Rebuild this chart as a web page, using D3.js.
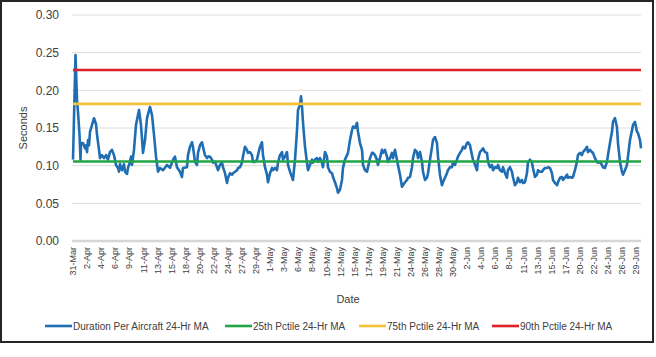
<!DOCTYPE html>
<html><head><meta charset="utf-8">
<script src="https://cdn.jsdelivr.net/npm/d3@7"></script>
<style>body{margin:0;background:#fff;} svg{display:block;} text{font-family:"Liberation Sans",Arial,sans-serif;}</style>
</head><body><svg id="c" width="656" height="357"></svg>
<script>
// start of the series: 31-Mar 00:00
const startDate = new Date(2019, 2, 31, 0, 0);
// time of each reading, in days since 31-Mar 00:00
const days = [0,0.40,0.64,0.80,1.04,1.20,1.28,1.60,1.92,2.08,2.24,2.40,2.56,2.72,3.04,3.36,3.68,3.84,4.16,4.32,4.64,4.96,5.28,5.59,5.91,6.23,6.55,6.71,6.87,7.19,7.35,7.51,7.83,8.15,8.31,8.63,8.79,9.11,9.27,9.43,9.75,10.07,10.55,10.87,11.19,11.51,11.83,12.31,12.63,12.95,13.27,13.59,13.91,
14.39,15.03,15.51,15.99,16.30,16.62,17.10,17.42,17.58,18.22,18.38,18.70,19.02,19.18,19.50,19.82,19.98,20.30,20.62,20.78,21.10,21.42,21.58,21.90,22.22,22.38,22.70,23.02,23.18,23.50,23.82,23.98,24.30,24.62,24.78,25.10,25.42,25.58,25.90,26.22,26.38,26.69,27.01,27.17,27.49,27.81,27.97,28.29,28.61,28.77,29.09,29.41,29.57,29.89,30.21,30.37,30.69,31.01,31.17,31.49,31.81,31.97,32.29,32.61,32.77,33.09,33.41,33.57,33.89,34.21,34.37,34.69,35.01,35.17,35.49,35.81,35.97,36.29,36.45,36.61,36.77,37.09,37.40,37.56,37.88,38.20,38.36,38.68,39.00,39.16,39.48,39.80,39.96,40.28,40.60,40.76,41.08,41.40,41.56,41.88,42.20,42.36,42.68,43.00,43.16,43.48,43.80,43.96,44.28,44.60,44.76,45.08,45.40,45.56,45.88,46.20,46.36,46.68,47.00,47.16,47.48,47.80,47.96,48.27,48.59,48.75,49.07,49.39,49.55,49.87,50.19,50.35,50.67,50.99,51.15,51.47,51.79,51.95,52.27,52.59,52.75,53.07,53.39,53.55,53.87,54.19,54.35,54.67,54.99,55.15,55.47,55.79,55.95,56.27,56.59,56.75,57.07,57.39,57.55,57.87,58.19,58.35,58.66,58.98,59.14,59.46,59.78,59.94,60.26,60.58,60.74,61.06,61.38,61.54,61.86,62.18,62.34,62.66,62.98,63.14,63.46,63.78,63.94,64.26,64.58,64.74,65.06,65.38,65.54,65.86,66.18,66.34,66.66,66.98,67.14,67.46,67.78,67.94,68.26,68.58,68.74,69.06,69.37,69.53,69.85,70.17,70.33,70.65,70.97,71.13,71.45,71.77,71.93,72.25,72.57,72.73,73.05,73.37,73.53,73.85,74.17,74.33,74.65,74.97,75.13,75.45,75.77,75.93,76.25,76.57,76.73,77.05,77.37,77.53,77.85,78.17,78.33,78.65,78.97,79.13,79.45,79.77,79.93,80.24,80.56,80.72,81.04,81.36,81.52,81.84,82.16,82.32,82.64,82.96,83.12,83.44,83.76,83.92,84.24,84.56,84.72,85.04,85.36,85.52,85.84,86.16,86.32,86.64,86.96,87.12,87.44,87.76,87.92,88.24,88.56,88.72,89.04,89.36,89.52,89.84,90.16,90.33,90.64,90.80];
// Duration Per Aircraft 24-Hr MA (seconds)
const duration = [0.108,0.247,0.187,0.171,0.141,0.108,0.130,0.130,0.123,0.127,0.118,0.134,0.127,0.145,0.154,0.163,0.155,0.141,0.121,0.110,0.114,0.110,0.114,0.108,0.118,0.121,0.114,0.108,0.101,0.097,0.092,0.102,0.094,0.102,0.092,0.089,0.097,0.105,0.112,0.101,0.121,0.154,0.174,0.154,0.117,0.134,0.163,0.178,0.167,0.141,0.112,0.092,0.097,
0.094,0.101,0.097,0.108,0.112,0.098,0.092,0.085,0.097,0.098,0.114,0.125,0.131,0.125,0.105,0.101,0.117,0.127,0.131,0.125,0.114,0.110,0.112,0.112,0.108,0.104,0.105,0.098,0.094,0.101,0.104,0.098,0.090,0.077,0.084,0.090,0.088,0.090,0.092,0.094,0.097,0.098,0.104,0.112,0.125,0.121,0.117,0.118,0.114,0.105,0.105,0.108,0.114,0.125,0.131,0.114,0.098,0.088,0.078,0.090,0.097,0.094,0.097,0.094,0.104,0.114,0.118,0.108,0.112,0.118,0.101,0.092,0.085,0.081,0.108,0.147,0.174,0.181,0.192,0.178,0.157,0.125,0.104,0.094,0.101,0.108,0.104,0.108,0.110,0.105,0.110,0.104,0.098,0.118,0.112,0.098,0.092,0.090,0.085,0.078,0.070,0.064,0.068,0.081,0.097,0.108,0.114,0.117,0.134,0.147,0.152,0.150,0.157,0.145,0.130,0.121,0.101,0.094,0.092,0.098,0.110,0.117,0.117,0.114,0.108,0.101,0.110,0.121,0.117,0.121,0.112,0.105,0.110,0.117,0.110,0.121,0.108,0.101,0.088,0.072,0.074,0.078,0.081,0.084,0.085,0.098,0.110,0.121,0.118,0.110,0.118,0.105,0.092,0.081,0.084,0.090,0.108,0.125,0.134,0.138,0.130,0.112,0.088,0.074,0.078,0.084,0.090,0.094,0.098,0.098,0.104,0.101,0.108,0.112,0.117,0.121,0.125,0.123,0.130,0.131,0.127,0.114,0.108,0.101,0.094,0.108,0.118,0.121,0.123,0.118,0.117,0.105,0.098,0.101,0.094,0.098,0.097,0.101,0.094,0.092,0.098,0.090,0.084,0.094,0.098,0.092,0.085,0.074,0.078,0.084,0.078,0.081,0.077,0.078,0.090,0.104,0.108,0.104,0.097,0.085,0.088,0.094,0.092,0.092,0.094,0.097,0.097,0.098,0.097,0.090,0.081,0.077,0.074,0.078,0.084,0.085,0.081,0.084,0.088,0.084,0.085,0.084,0.085,0.094,0.105,0.114,0.117,0.114,0.118,0.121,0.125,0.118,0.121,0.118,0.117,0.110,0.105,0.104,0.105,0.101,0.098,0.097,0.105,0.114,0.130,0.145,0.158,0.163,0.151,0.130,0.105,0.092,0.088,0.094,0.101,0.112,0.134,0.147,0.154,0.158,0.145,0.143,0.134,0.123];
// constant percentile lines (seconds)
const pctile25 = 0.1055;
const pctile75 = 0.182;
const pctile90 = 0.227;

const yTicks = [0, 0.05, 0.10, 0.15, 0.20, 0.25, 0.30];
const tickLabels = ["31-Mar","2-Apr","4-Apr","6-Apr","9-Apr","11-Apr","13-Apr","15-Apr","18-Apr","20-Apr","22-Apr","24-Apr","27-Apr","29-Apr","1-May","3-May","6-May","8-May","10-May","12-May","15-May","17-May","19-May","21-May","24-May","26-May","28-May","30-May","2-Jun","4-Jun","6-Jun","8-Jun","11-Jun","13-Jun","15-Jun","17-Jun","20-Jun","22-Jun","24-Jun","26-Jun","29-Jun"];
const tickStepDays = 2.25; // one label every 54 hours
const seriesNames = ["Duration Per Aircraft 24-Hr MA","25th Pctile 24-Hr MA","75th Pctile 24-Hr MA","90th Pctile 24-Hr MA"];
const seriesColors = ["#1f6db3","#21a546","#f3c236","#dd2129"];

const toDate = d => new Date(startDate.getTime() + d * 864e5);
const svg = d3.select("#c");

svg.append("rect").attr("x",1).attr("y",1).attr("width",652).attr("height",341)
  .attr("fill","#fff").attr("stroke","#262626").attr("stroke-width",2);

const x = d3.scaleTime().domain([toDate(days[0]), toDate(days[days.length-1])]).range([73, 641]);
const y = d3.scaleLinear().domain([0, 0.30]).range([241, 15]);

// gridlines
svg.append("g").selectAll("line").data(yTicks.filter(v => v > 0)).join("line")
  .attr("x1", 72).attr("x2", 641).attr("y1", d => y(d)).attr("y2", d => y(d))
  .attr("stroke", "#dedede").attr("stroke-width", 1);
svg.append("line").attr("x1", 72).attr("x2", 641).attr("y1", y(0)).attr("y2", y(0))
  .attr("stroke", "#d6d6d6").attr("stroke-width", 2.5);

// y tick labels
svg.append("g").selectAll("text").data(yTicks).join("text")
  .attr("x", 59).attr("y", d => y(d)).attr("dy", "0.35em").attr("text-anchor", "end")
  .attr("font-size", 12).attr("fill", "#404040").text(d3.format(".2f"));

// x tick labels
svg.append("g").selectAll("text").data(tickLabels).join("text")
  .attr("transform", (d, i) => `translate(${x(toDate(i * tickStepDays))},247) rotate(-90)`)
  .attr("text-anchor", "end").attr("dy", "0.35em")
  .attr("font-size", 9).attr("fill", "#404040").text(d => d);

// axis titles
svg.append("text").attr("transform", "translate(27,128) rotate(-90)")
  .attr("text-anchor", "middle").attr("font-size", 11).attr("fill", "#404040").text("Seconds");
svg.append("text").attr("x", 348).attr("y", 303)
  .attr("text-anchor", "middle").attr("font-size", 11).attr("fill", "#404040").text("Date");

// main series
const pts = days.map((d, i) => [toDate(d), duration[i]]);
svg.append("path").datum(pts)
  .attr("d", d3.line().x(p => x(p[0])).y(p => y(p[1])))
  .attr("fill", "none").attr("stroke", seriesColors[0]).attr("stroke-width", 2.6)
  .attr("stroke-linejoin", "round");

// percentile lines
const x0 = toDate(days[0]), x1 = toDate(days[days.length-1]);
[pctile25, pctile75, pctile90].forEach((v, k) => {
  svg.append("path").datum([[x0, v], [x1, v]])
    .attr("d", d3.line().x(p => x(p[0])).y(p => y(p[1])))
    .attr("fill", "none").attr("stroke", seriesColors[k + 1]).attr("stroke-width", 2.6);
});

// legend
const legX = [45, 225, 359, 492];
const lg = svg.append("g").attr("transform", "translate(0,326)");
seriesNames.forEach((n, i) => {
  lg.append("line").attr("x1", legX[i]).attr("x2", legX[i] + 27).attr("y1", 0).attr("y2", 0)
    .attr("stroke", seriesColors[i]).attr("stroke-width", 2.6);
  lg.append("text").attr("x", legX[i] + 28).attr("y", 0).attr("dy", "0.35em")
    .attr("font-size", 10).attr("fill", "#404040").text(n);
});
</script></body></html>
